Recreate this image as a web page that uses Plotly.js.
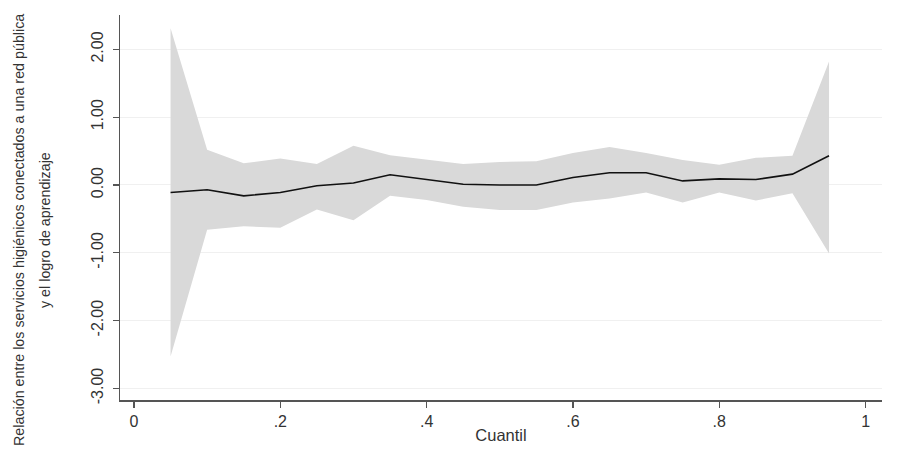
<!DOCTYPE html>
<html>
<head>
<meta charset="utf-8">
<script src="https://cdn.plot.ly/plotly-3.0.1.min.js"></script>
<style>html,body{margin:0;padding:0;background:#fff;}#chart{width:911px;height:451px;}</style>
</head>
<body>
<div id="chart"></div>
<script>
const quantiles = [0.05,0.10,0.15,0.20,0.25,0.30,0.35,0.40,0.45,0.50,0.55,0.60,0.65,0.70,0.75,0.80,0.85,0.90,0.95];
const coef  = [-0.11,-0.07,-0.16,-0.11,-0.01,0.03,0.15,0.08,0.01,0.00,0.00,0.11,0.18,0.18,0.06,0.09,0.08,0.16,0.43];
const upper = [2.31,0.52,0.32,0.39,0.31,0.58,0.44,0.38,0.31,0.34,0.35,0.47,0.56,0.47,0.37,0.30,0.40,0.43,1.82];
const lower = [-2.53,-0.66,-0.61,-0.63,-0.36,-0.52,-0.16,-0.22,-0.32,-0.37,-0.37,-0.26,-0.20,-0.11,-0.26,-0.11,-0.23,-0.12,-1.01];
const yTickVals = [-3,-2,-1,0,1,2];
const yTickText = ["-3.00","-2.00","-1.00","0.00","1.00","2.00"];
const xTickVals = [0,0.2,0.4,0.6,0.8,1];
const xTickText = ["0",".2",".4",".6",".8","1"];
const yTitleLines = ["Relación entre los servicios higiénicos conectados a una red pública", "y el logro de aprendizaje"];

const fontFam = '"Liberation Sans", Arial, sans-serif';
const txtColor = '#333333';
const traces = [
  {x: quantiles, y: upper, type:'scatter', mode:'lines', line:{width:0, color:'#d9d9d9'}, hoverinfo:'skip', showlegend:false},
  {x: quantiles, y: lower, type:'scatter', mode:'lines', line:{width:0, color:'#d9d9d9'}, fill:'tonexty', fillcolor:'#d9d9d9', hoverinfo:'skip', showlegend:false},
  {x: quantiles, y: coef, type:'scatter', mode:'lines', line:{width:1.6, color:'#111111'}, showlegend:false}
];
const layout = {
  width: 911, height: 451,
  margin: {l:120, r:29, t:15, b:51},
  paper_bgcolor:'#ffffff', plot_bgcolor:'#ffffff',
  font: {family: fontFam, color:txtColor, size:14},
  showlegend:false,
  xaxis: {
    range:[-0.0191, 1.0224], tickvals:xTickVals, ticktext:xTickText,
    showgrid:false, zeroline:false, showline:true, linecolor:'#555555', linewidth:1.5,
    ticks:'outside', ticklen:6, tickcolor:'#555555', tickwidth:1.2,
    tickfont:{size:16, family:fontFam, color:txtColor},
    title:{text:'Cuantil', font:{size:16.5, family:fontFam, color:txtColor}, standoff:0}
  },
  yaxis: {
    range:[-3.171, 2.507], tickvals:yTickVals, ticktext:yTickText, tickangle:-90,
    showgrid:true, gridcolor:'#f0f0f0', gridwidth:1, zeroline:false,
    showline:true, linecolor:'#555555', linewidth:1.5,
    ticks:'outside', ticklen:6, tickcolor:'#555555', tickwidth:1.2, ticklabelstandoff:3,
    tickfont:{size:16, family:fontFam, color:txtColor}
  },
  annotations: [
    {text: yTitleLines[0], xref:'paper', yref:'paper', x:-0.1325, y:0.4416, xanchor:'center', yanchor:'middle', textangle:-90, showarrow:false, font:{size:14.3, family:fontFam, color:txtColor}},
    {text: yTitleLines[1], xref:'paper', yref:'paper', x:-0.0984, y:0.4416, xanchor:'center', yanchor:'middle', textangle:-90, showarrow:false, font:{size:14.3, family:fontFam, color:txtColor}}
  ]
};
Plotly.newPlot('chart', traces, layout, {displayModeBar:false, staticPlot:true});
</script>
</body>
</html>
